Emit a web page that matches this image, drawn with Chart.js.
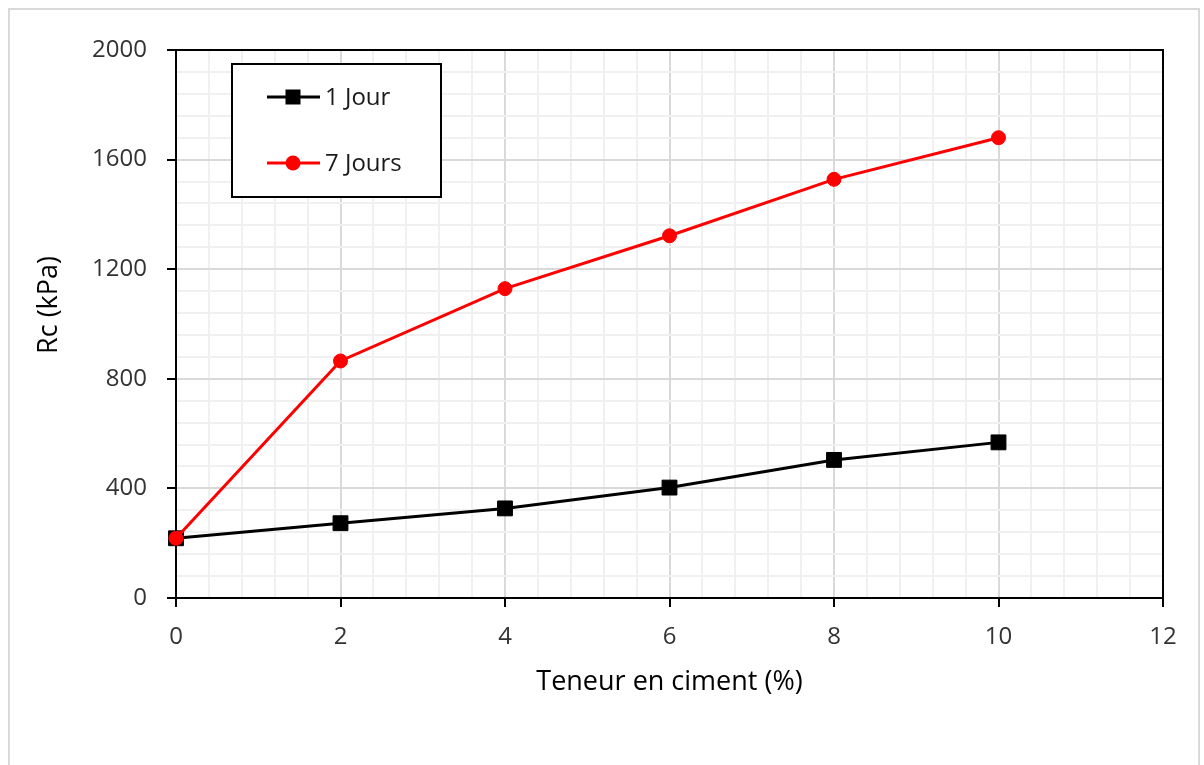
<!DOCTYPE html>
<html>
<head>
<meta charset="utf-8">
<script src="https://cdn.jsdelivr.net/npm/chart.js@4/dist/chart.umd.min.js"></script>
<style>
  html, body { margin: 0; padding: 0; background: #fff; }
  #wrap { position: relative; width: 1204px; height: 765px; overflow: hidden; }
  #frame { position: absolute; left: 8px; top: 8px; width: 1192px; height: 800px;
           border: 2px solid #d9d9d9; box-sizing: border-box; pointer-events: none; }
</style>
</head>
<body>
<div id="wrap">
  <canvas id="rcchart" width="1204" height="765"></canvas>
  <div id="frame"></div>
</div>
<script>
const canvasId = 'rcchart';

// cement content (%) and compressive strength Rc (kPa)
const teneur = [0, 2, 4, 6, 8, 10];
const rc1Jour = [218, 273, 327, 403, 504, 568];
const rc7Jours = [218, 865, 1129, 1322, 1528, 1680];

const xTicks = [0, 2, 4, 6, 8, 10, 12];
const yTicks = [0, 400, 800, 1200, 1600, 2000];
const yTitle = 'Rc (kPa)';

const FONT = "'Open Sans', 'Noto Sans', sans-serif";

function isMajor(v, list) {
    return list.some(function (t) { return Math.abs(t - v) < 1e-6; });
}

// black box around the plot area
const plotFrame = {
    id: 'plotFrame',
    beforeDatasetsDraw: function (chart) {
        const a = chart.chartArea;
        const ctx = chart.ctx;
        ctx.save();
        ctx.strokeStyle = '#000';
        ctx.lineWidth = 2;
        ctx.strokeRect(a.left, a.top, a.right - a.left, a.bottom - a.top);
        ctx.restore();
    }
};

// vertical axis title, sitting a little above the middle of the axis
const yAxisTitle = {
    id: 'yAxisTitle',
    afterDraw: function (chart) {
        const ctx = chart.ctx;
        ctx.save();
        ctx.translate(49, 305);
        ctx.rotate(-Math.PI / 2);
        ctx.fillStyle = '#000';
        ctx.font = '27px ' + FONT;
        ctx.textAlign = 'center';
        ctx.textBaseline = 'middle';
        ctx.fillText(yTitle, 0, 0);
        ctx.restore();
    }
};

// boxed legend in the upper left
const boxLegend = {
    id: 'boxLegend',
    afterDraw: function (chart) {
        const ctx = chart.ctx;
        const bx = 232, by = 64, bw = 209, bh = 133;
        ctx.save();
        ctx.fillStyle = '#fff';
        ctx.fillRect(bx, by, bw, bh);
        ctx.strokeStyle = '#000';
        ctx.lineWidth = 2;
        ctx.strokeRect(bx, by, bw, bh);

        const rows = [97, 163];
        chart.data.datasets.forEach(function (ds, i) {
            const y = rows[i];
            ctx.strokeStyle = ds.borderColor;
            ctx.lineWidth = 3;
            ctx.beginPath();
            ctx.moveTo(267, y);
            ctx.lineTo(320, y);
            ctx.stroke();
            ctx.fillStyle = ds.pointBackgroundColor;
            ctx.beginPath();
            if (ds.pointStyle === 'rect') {
                ctx.rect(293 - 7.5, y - 7.5, 15, 15);
            } else {
                ctx.arc(293, y, 7.5, 0, Math.PI * 2);
            }
            ctx.fill();
            ctx.fillStyle = '#1a1a1a';
            ctx.font = '24px ' + FONT;
            ctx.textAlign = 'left';
            ctx.textBaseline = 'middle';
            ctx.fillText(ds.label, 325, y + 1);
        });
        ctx.restore();
    }
};

const ctx = document.getElementById(canvasId).getContext('2d');

new Chart(ctx, {
    type: 'line',
    data: {
        labels: teneur,
        datasets: [{
            label: '1 Jour',
            data: teneur.map(function (x, i) { return { x: x, y: rc1Jour[i] }; }),
            borderColor: '#000',
            backgroundColor: '#000',
            pointBackgroundColor: '#000',
            pointBorderColor: '#000',
            pointStyle: 'rect',
            pointRadius: 10.5,
            pointBorderWidth: 1,
            borderWidth: 3,
            clip: false,
            order: 1
        }, {
            label: '7 Jours',
            data: teneur.map(function (x, i) { return { x: x, y: rc7Jours[i] }; }),
            borderColor: '#ff0000',
            backgroundColor: '#ff0000',
            pointBackgroundColor: '#ff0000',
            pointBorderColor: '#ff0000',
            pointStyle: 'circle',
            pointRadius: 7,
            pointBorderWidth: 1,
            borderWidth: 3,
            clip: false,
            order: 0
        }]
    },
    options: {
        responsive: false,
        animation: false,
        layout: { padding: { left: 0, top: 50, right: 41, bottom: 0 } },
        plugins: {
            legend: { display: false },
            tooltip: { enabled: false }
        },
        scales: {
            x: {
                type: 'linear',
                min: 0,
                max: 12,
                afterFit: function (scale) { scale.height = 167; },
                border: { display: false },
                grid: {
                    color: function (c) { return isMajor(c.tick.value, xTicks) ? '#d9d9d9' : '#f0f0f0'; },
                    lineWidth: 2,
                    tickLength: 9,
                    tickWidth: 2,
                    tickColor: function (c) { return isMajor(c.tick.value, xTicks) ? '#000' : 'rgba(0,0,0,0)'; }
                },
                ticks: {
                    stepSize: 0.4,
                    autoSkip: false,
                    maxRotation: 0,
                    padding: 16,
                    color: '#333',
                    font: { family: FONT, size: 24 },
                    callback: function (v) { return isMajor(v, xTicks) ? String(Math.round(v)) : ''; }
                },
                title: {
                    display: true,
                    text: 'Teneur en ciment (%)',
                    color: '#000',
                    font: { family: FONT, size: 27 },
                    padding: { top: 0, bottom: 66 }
                }
            },
            y: {
                min: 0,
                max: 2000,
                afterFit: function (scale) { scale.width = 176; },
                border: { display: false },
                grid: {
                    color: function (c) { return isMajor(c.tick.value, yTicks) ? '#d9d9d9' : '#f0f0f0'; },
                    lineWidth: 2,
                    tickLength: 9,
                    tickWidth: 2,
                    tickColor: function (c) { return isMajor(c.tick.value, yTicks) ? '#000' : 'rgba(0,0,0,0)'; }
                },
                ticks: {
                    stepSize: 80,
                    autoSkip: false,
                    padding: 20,
                    color: '#333',
                    font: { family: FONT, size: 24 },
                    callback: function (v) { return isMajor(v, yTicks) ? String(v) : ''; }
                }
            }
        }
    },
    plugins: [plotFrame, yAxisTitle, boxLegend]
});
</script>
</body>
</html>
